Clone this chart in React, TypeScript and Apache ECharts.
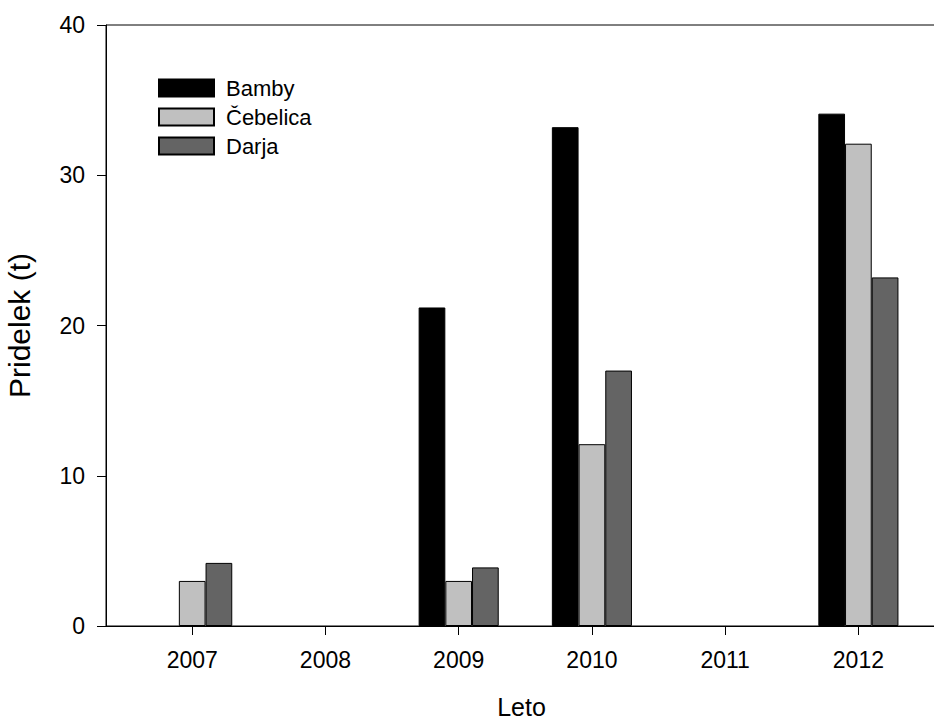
import React, { useEffect, useRef } from "react";
import * as echarts from "echarts";

const years = [2007, 2008, 2009, 2010, 2011, 2012];
const bamby = [null, null, 21.2, 33.2, null, 34.1];
const cebelica = [3.0, null, 3.0, 12.1, null, 32.1];
const darja = [4.2, null, 3.9, 17.0, null, 23.2];
const yTicks = [0, 10, 20, 30, 40];

const FONT = "'Liberation Sans', Arial, sans-serif";

export default function App() {
  const ref = useRef<HTMLDivElement>(null);
  useEffect(() => {
    if (!ref.current) return;
    const chart = echarts.init(ref.current, null, { renderer: "svg" });
    const mk = (name: string, vals: (number | null)[], color: string) => ({
      name,
      type: "bar",
      data: years.map((y, i) => [y, vals[i]]),
      barWidth: 26.7,
      barGap: "0%",
      itemStyle: { color, borderColor: "#000", borderWidth: 1 },
    });
    chart.setOption({
      animation: false,
      textStyle: { fontFamily: FONT },
      grid: {
        left: 106,
        top: 25,
        right: -3,
        bottom: 94,
        outerBoundsMode: "none",
        containLabel: false,
        show: true,
        borderColor: "#000",
        borderWidth: 1,
        backgroundColor: "transparent",
      },
      legend: {
        orient: "vertical",
        left: 153,
        top: 72,
        itemWidth: 55,
        itemHeight: 17,
        itemGap: 7,
        icon: "rect",
        textStyle: { fontSize: 22, color: "#000", fontFamily: FONT, padding: [0, 0, 0, 7] },
        data: ["Bamby", "Čebelica", "Darja"],
      },
      xAxis: {
        type: "value",
        min: 2006.353,
        max: 2012.59,
        name: "Leto",
        nameLocation: "middle",
        nameGap: 68,
        nameTextStyle: { fontSize: 25, color: "#000", fontFamily: FONT },
        axisLine: { show: true, lineStyle: { color: "#000", width: 1 } },
        axisTick: { show: true, length: 9, customValues: years, lineStyle: { color: "#000" } },
        axisLabel: {
          customValues: years,
          fontSize: 23,
          color: "#000",
          margin: 22,
          fontFamily: FONT,
          formatter: (v: number) => String(Math.round(v)),
        },
        splitLine: { show: false },
      },
      yAxis: {
        type: "value",
        min: 0,
        max: 40,
        interval: 10,
        name: "Pridelek (t)",
        nameLocation: "middle",
        nameGap: 72,
        nameTextStyle: { fontSize: 30, color: "#000", fontFamily: FONT },
        axisLine: { show: true, lineStyle: { color: "#000", width: 1 } },
        axisTick: { show: true, length: 9, lineStyle: { color: "#000" } },
        axisLabel: {
          fontSize: 23,
          color: "#000",
          margin: 21,
          fontFamily: FONT,
          formatter: (v: number) => (yTicks.includes(v) ? String(v) : ""),
        },
        splitLine: { show: false },
      },
      series: [
        mk("Bamby", bamby, "#000000"),
        mk("Čebelica", cebelica, "#c0c0c0"),
        mk("Darja", darja, "#646464"),
      ],
    });
    return () => chart.dispose();
  }, []);
  return <div ref={ref} style={{ width: 934, height: 720, position: "absolute", left: 0, top: 0 }} />;
}
